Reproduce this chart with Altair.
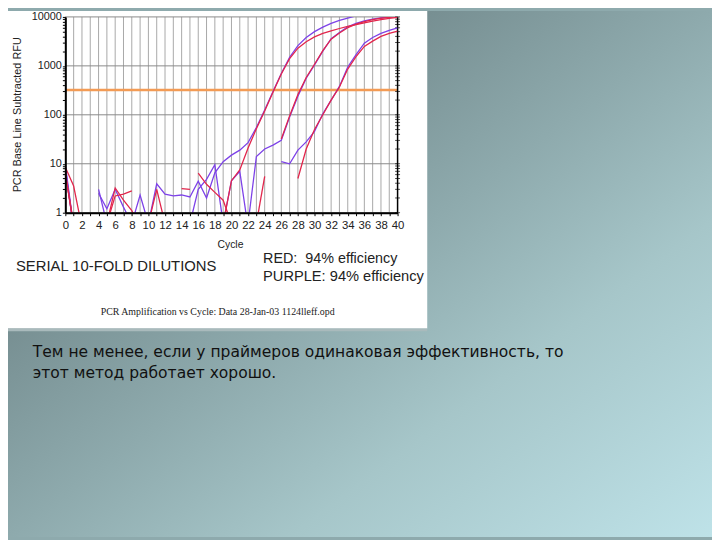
import altair as alt
import pandas as pd

# ---------------- data ----------------
CYCLES = list(range(41))
N = None
PURPLE_A = [9.5, 0.5, N, N, N, N, N, N, 0.6, 2.3, 0.6, 3.9, 2.4, 2.2, 2.3, 2.1, 4.4, 2.0, 6.5, 11,
            15, 19, 27, 55, 125, 300, 700, 1500, 2600, 3800, 5000, 6200, 7400, 8500, 9500, 10500,
            11500, 12200, 12800, 13300, 13800]
RED_A = [8.5, 3.5, 0.5, N, N, 0.6, 3.2, 1.8, 1.1, 0.5, 0.6, 3.0, 0.6, N, 3.1, 3.0, N, N, N, 0.6,
         4.5, 7.5, 21, 52, 120, 290, 680, 1400, 2300, 3100, 3900, 4600, 5200, 5800, 6400, 7000,
         7600, 8200, 8800, 9300, 9800]
PURPLE_B = [8, 0.5, N, N, 3.0, 0.6, N, N, N, N, N, N, N, N, N, N, N, N, N, N,
            N, N, 0.6, 14, 20, 24, 30, 90, 240, 560, 1050, 2000, 3600, 4800, 6300, 7400,
            8300, 9000, 9600, 10000, 10300]
RED_B = [7, 0.5, N, N, N, N, N, N, N, N, N, N, N, N, N, N, N, N, N, N,
         N, N, N, 0.6, 5.5, N, 32, 95, 260, 580, 1080, 2050, 3500, 4700, 6000, 7100,
         8000, 8800, 9400, 9800, 10100]
PURPLE_C = [7, 0.5, N, N, 2.5, 1.2, 3.0, 1.3, 0.6, N, N, N, N, N, N, 0.6, 3.0, 4.8, 9.6, 0.6,
            4.5, 7.0, 0.5, N, N, N, 11, 10, 19, 28, 46, 105, 200, 380, 950, 1700,
            2900, 3800, 4600, 5300, 6000]
RED_C = [6, 0.6, N, N, N, 0.6, 2.2, 2.4, 2.8, N, N, N, N, N, N, N, 6.4, 3.8, 2.6, 1.8,
         0.6, N, N, N, N, N, N, N, 5, 20, 50, 100, 200, 370, 860, 1550,
         2500, 3200, 4000, 4600, 5100]
THRESHOLD = [320]
X_LABELS = list(range(0, 41, 2))
Y_LABELS = [1, 10, 100, 1000, 10000]
Y_MINOR = [k * d for d in [1, 10, 100, 1000] for k in range(2, 10)]

PURPLE = "#7d42e8"
RED = "#e2264c"


def segments(name, vals):
    rows, seg = [], 0
    for c, v in zip(CYCLES, vals):
        if v is None:
            seg += 1
            continue
        rows.append({"cycle": c, "value": v, "key": f"{name}-{seg}"})
    return rows


purple_df = pd.DataFrame(segments("pa", PURPLE_A) + segments("pb", PURPLE_B) + segments("pc", PURPLE_C))
red_df = pd.DataFrame(segments("ra", RED_A) + segments("rb", RED_B) + segments("rc", RED_C))

# ---------------- encodings ----------------
FONT = "Liberation Sans"
x_axis = alt.Axis(values=CYCLES, labelExpr="datum.value % 2 == 0 ? datum.label : ''",
                  title=None, grid=False, domainColor="black", domainWidth=2,
                  tickColor="black", tickSize=3, labelFont=FONT, labelFontSize=11.5,
                  labelColor="#222", labelPadding=4, labelOverlap=False, labelFlush=False,
                  zindex=1)
y_axis = alt.Axis(values=sorted(Y_LABELS + Y_MINOR), format="d",
                  labelExpr="indexof([1,10,100,1000,10000], datum.value) >= 0 ? datum.label : ''",
                  title=None, grid=False, domainColor="black", domainWidth=2,
                  tickColor="black", tickSize=3, labelFont=FONT, labelFontSize=11,
                  labelColor="#222", labelPadding=1, labelOverlap=False, labelFlush=False,
                  zindex=1)
X = alt.X("cycle:Q", scale=alt.Scale(domain=[0, 40], nice=False, zero=False), axis=x_axis)
Y = alt.Y("value:Q", scale=alt.Scale(type="log", domain=[1, 10000], nice=False), axis=y_axis)

one = pd.DataFrame({"k": [0]})

# ---------------- decorations ----------------
bg = alt.Chart(one).mark_rect(
    color=alt.Gradient(gradient="linear", x1=0, y1=0, x2=1, y2=1, stops=[
        alt.GradientStop(offset=0, color="#627a7e"),
        alt.GradientStop(offset=0.3, color="#778f92"),
        alt.GradientStop(offset=0.5, color="#8eaaad"),
        alt.GradientStop(offset=0.7, color="#a6c6c9"),
        alt.GradientStop(offset=1, color="#bee2e8"),
    ])
).encode(x=alt.value(-58), x2=alt.value(654), y=alt.value(-6), y2=alt.value(526))

white = alt.Chart(one).mark_rect(color="white").encode(
    x=alt.value(-58), x2=alt.value(366), y=alt.value(-6), y2=alt.value(315))
strip = alt.Chart(one).mark_rect(color="#a9babc").encode(
    x=alt.value(-58), x2=alt.value(366), y=alt.value(315), y2=alt.value(318))

vgrid = alt.Chart(pd.DataFrame({"cycle": CYCLES})).mark_rule(color="#a8a8a8", strokeWidth=1).encode(x=X)
hgrid = alt.Chart(pd.DataFrame({"value": Y_LABELS})).mark_rule(color="#8a8a8a", strokeWidth=1).encode(y=Y)
right_line = alt.Chart(pd.DataFrame({"cycle": [40]})).mark_rule(color="black", strokeWidth=1.5).encode(x=X)
right_ticks = alt.Chart(pd.DataFrame({"cycle": [40] * len(Y_MINOR + Y_LABELS), "value": Y_MINOR + Y_LABELS})).mark_tick(
    orient="horizontal", size=5, thickness=1, color="black").encode(x=X, y=Y)

thr = alt.Chart(pd.DataFrame({"value": THRESHOLD})).mark_rule(color="#f39b55", strokeWidth=2.5).encode(y=Y)

purple_lines = alt.Chart(purple_df).mark_line(color=PURPLE, strokeWidth=1.3, clip=True).encode(
    x=X, y=Y, detail="key:N", order="cycle:Q")
red_lines = alt.Chart(red_df).mark_line(color=RED, strokeWidth=1.3, clip=True).encode(
    x=X, y=Y, detail="key:N", order="cycle:Q")


def label(text, x, y, size, align="left", font=FONT, color="#222", angle=0):
    kw = dict(align=align, baseline="middle", font=font, fontSize=size, color=color)
    if angle:
        kw["angle"] = angle
    return alt.Chart(pd.DataFrame({"t": [text]})).mark_text(**kw).encode(
        text="t:N", x=alt.value(x), y=alt.value(y))


texts = [
    label("PCR Base Line Subtracted RFU", -48, 99, 11, align="center", angle=270),
    label("Cycle", 167, 231, 10.5, align="center"),
    label("SERIAL 10-FOLD DILUTIONS", -50, 252, 15),
    label("RED:\u00a0\u00a094% efficiency", 200, 245, 14.5),
    label("PURPLE: 94% efficiency", 200, 263, 14.8),
    label("PCR Amplification vs Cycle: Data 28-Jan-03 1124lleff.opd", 154, 298, 10,
          align="center", font="Liberation Serif"),
    label("Тем не менее, если у праймеров одинаковая эффективность, то", -33, 339, 15.7,
          font="DejaVu Sans", color="#111"),
    label("этот метод работает хорошо.", -33, 360, 15.7, font="DejaVu Sans", color="#111"),
]

chart = alt.layer(
    bg, white, strip, vgrid, hgrid, thr, right_line, right_ticks, purple_lines, red_lines, *texts
).properties(
    width=336, height=198,
    padding={"left": 58, "top": 6, "right": 318, "bottom": 328},
    autosize=alt.AutoSizeParams(type="none"),
).configure_view(strokeWidth=0).configure(background="#8eaaad")

chart.save("out.html", embed_options={"renderer": "svg", "actions": False})
